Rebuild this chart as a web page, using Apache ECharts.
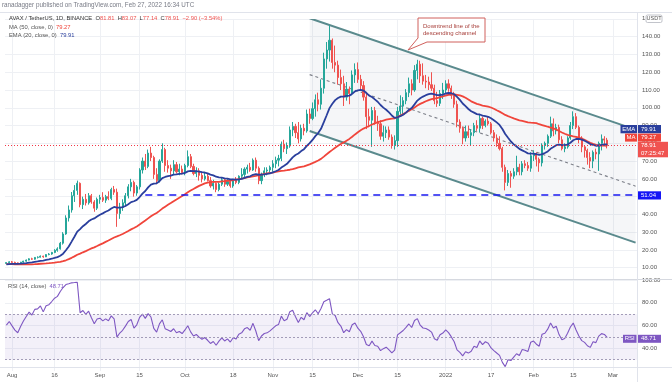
<!DOCTYPE html>
<html><head><meta charset="utf-8">
<script src="https://cdn.jsdelivr.net/npm/echarts@6/dist/echarts.min.js"></script>
<style>html,body{margin:0;padding:0;background:#fff}#c{width:672px;height:382px}</style>
</head><body><div id="c"></div>
<script>
// ---- data (AVAX / TetherUS, 1D, BINANCE) ----
const startDate = '2021-07-30';
const axisEndDate = '2022-03-09';
// closes before the first visible candle (Jun 10 - Jul 29, 2021), used to seed the indicators
const preCloses = [15.0,14.8,14.3,15.1,15.2,14.9,13.9,13.6,12.8,12.6,12.7,10.5,10.3,11.3,11.6,10.7,10.6,11.4,11.5,12.2,
12.2,11.6,11.6,12.0,12.3,12.0,12.9,12.6,11.8,12.1,11.7,11.8,11.4,11.0,11.0,10.6,10.4,10.5,10.6,10.2,
9.9,10.9,11.3,11.8,12.0,12.0,12.8,12.4,12.4,12.5];
const opens = [12.4,12.9,13.3,13.0,12.7,12.5,13.1,13.7,14.3,15.0,
14.8,15.8,15.9,16.5,16.1,17.4,17.7,18.6,19.8,20.6,
23.8,29.0,38.0,42.5,50.5,53.5,57.5,45.5,48.5,46.5,
50.5,47.0,43.5,48.5,49.5,48.0,50.0,49.0,54.0,52.5,
40.5,44.0,46.5,50.5,55.5,58.0,52.0,55.5,65.0,70.0,
67.0,74.5,72.0,62.5,59.0,70.0,76.5,67.5,66.0,64.5,
68.0,64.0,65.5,63.5,67.5,72.5,67.0,63.0,64.5,62.0,
60.0,61.5,59.0,56.0,57.5,54.0,57.0,59.5,57.0,58.5,
56.0,59.0,58.0,61.5,62.5,65.5,66.5,65.0,70.5,66.0,
59.0,62.5,64.5,65.0,66.5,68.5,70.5,71.5,79.5,77.0,
78.5,87.5,89.5,86.0,82.5,88.5,87.0,96.5,94.0,99.5,
104.5,102.0,111.0,127.5,132.5,138.0,125.5,124.0,117.0,113.5,
106.0,110.5,108.0,118.5,121.5,116.0,112.5,106.0,95.0,93.0,
98.5,92.0,91.0,84.0,86.0,87.5,83.5,79.0,81.5,98.0,
101.0,104.0,108.5,113.5,110.0,121.0,124.5,118.0,115.0,114.5,
113.0,111.0,104.0,102.5,108.0,110.0,113.5,111.0,107.0,102.0,
92.0,88.5,83.0,86.5,84.5,86.0,90.0,88.5,94.0,90.0,
92.5,91.0,86.0,83.0,80.0,77.0,66.5,58.0,63.0,61.5,
64.0,66.5,64.0,68.5,67.5,66.0,73.0,74.0,71.0,69.0,
79.0,80.0,84.0,91.0,87.0,89.0,82.0,77.0,78.0,83.0,
90.0,95.0,89.0,83.0,78.0,76.0,72.0,70.0,75.0,74.0,
80.0,82.5,81.81];
const highs = [13.0,13.6,13.8,13.4,13.0,13.3,13.9,14.6,15.3,15.6,
16.0,16.4,16.9,16.8,17.6,18.2,18.9,20.4,21.5,24.5,
30.0,39.5,45.0,52.6,56.5,59.0,58.0,50.0,51.5,52.0,
51.5,48.0,49.5,51.0,52.5,51.0,53.0,55.0,56.0,54.5,
46.5,48.5,52.0,57.0,60.0,59.0,56.5,66.0,72.0,74.0,
76.5,78.0,73.0,66.0,71.0,80.0,77.5,70.5,68.0,70.5,
69.5,68.5,67.5,68.5,76.0,74.0,68.5,66.5,66.0,63.5,
64.0,63.0,61.0,59.5,58.0,58.0,60.5,60.5,60.0,59.5,
60.0,61.0,62.0,66.0,66.5,68.0,69.0,71.5,72.0,67.0,
63.5,66.5,66.5,67.5,70.5,72.5,73.5,81.0,82.0,80.5,
89.5,92.0,91.0,92.0,90.5,91.0,99.0,99.5,103.0,107.5,
108.5,116.0,131.0,137.0,146.5,139.0,135.0,126.5,121.5,118.0,
114.5,112.0,121.0,125.0,125.5,118.5,115.0,109.0,99.5,100.5,
100.5,95.5,93.0,90.0,89.5,89.5,85.0,84.5,100.5,107.0,
106.0,110.5,117.0,116.0,124.0,127.0,126.5,125.0,118.5,117.5,
120.0,113.0,109.0,110.0,114.0,115.5,116.0,112.5,109.0,104.0,
93.5,89.5,90.0,90.0,88.0,91.5,93.0,96.5,95.0,93.5,
95.0,92.0,87.5,85.0,84.0,78.0,68.0,65.0,64.5,66.0,
73.0,68.5,70.0,70.5,69.5,75.0,76.0,75.0,72.0,80.0,
81.0,85.0,95.0,94.0,91.0,90.5,84.0,80.0,84.0,92.0,
98.0,97.0,90.0,84.0,79.0,77.0,75.0,76.0,77.0,81.0,
85.0,84.0,83.07];
const lows = [12.1,12.7,12.8,12.5,12.1,12.3,12.8,13.4,14.1,14.4,
14.5,15.2,15.7,15.6,16.0,17.0,17.3,18.2,19.0,20.2,
23.0,28.5,36.0,41.0,47.0,51.0,44.0,43.0,45.0,45.5,
46.0,41.5,42.5,46.0,47.0,46.5,48.0,48.0,51.0,33.0,
37.5,42.0,44.5,49.0,53.0,50.0,50.5,54.0,63.0,65.0,
66.0,70.0,60.0,57.0,58.0,69.0,64.0,63.5,60.0,62.5,
63.0,62.0,62.5,62.0,66.5,66.0,62.0,61.0,59.0,58.0,
59.0,58.5,55.0,54.0,52.5,53.0,56.0,55.5,56.0,55.0,
55.0,57.0,57.0,60.0,61.0,63.0,64.0,64.5,64.0,57.0,
57.0,61.0,62.0,63.0,64.0,66.0,67.0,70.0,75.0,74.0,
77.5,84.0,83.0,80.0,81.0,84.5,86.0,91.0,93.0,95.0,
98.0,99.0,108.0,122.0,126.0,122.0,120.0,113.0,110.0,101.0,
104.0,102.0,107.0,114.0,114.0,110.5,104.0,88.0,89.0,78.0,
90.5,87.0,82.0,81.0,83.0,82.0,77.0,76.5,78.0,96.0,
96.5,102.0,106.0,107.0,109.0,116.0,114.0,113.0,111.0,110.0,
109.5,102.0,100.5,101.0,105.0,108.0,109.0,105.0,100.0,89.0,
86.0,79.5,81.0,83.0,79.0,84.0,87.0,86.0,88.0,89.0,
90.0,85.0,81.0,78.0,76.0,64.0,53.5,56.0,55.0,60.0,
62.0,62.0,62.0,66.0,64.5,64.0,70.0,67.0,64.0,67.0,
76.5,78.0,83.0,84.0,85.0,80.0,76.0,75.0,77.0,82.0,
88.0,88.0,80.0,75.0,72.0,68.0,66.0,66.0,71.0,64.5,
76.0,79.0,77.14];
const closes = [12.9,13.3,13.0,12.7,12.5,13.1,13.7,14.3,15.0,14.8,
15.8,15.9,16.5,16.1,17.4,17.7,18.6,19.8,20.6,23.8,
29.0,38.0,42.5,50.5,53.5,57.5,45.5,48.5,46.5,50.5,
47.0,43.5,48.5,49.5,48.0,50.0,49.0,54.0,52.5,40.5,
44.0,46.5,50.5,55.5,58.0,52.0,55.5,65.0,70.0,67.0,
74.5,72.0,62.5,59.0,70.0,76.5,67.5,66.0,64.5,68.0,
64.0,65.5,63.5,67.5,72.5,67.0,63.0,64.5,62.0,60.0,
61.5,59.0,56.0,57.5,54.0,57.0,59.5,57.0,58.5,56.0,
59.0,58.0,61.5,62.5,65.5,66.5,65.0,70.5,66.0,59.0,
62.5,64.5,65.0,66.5,68.5,70.5,71.5,79.5,77.0,78.5,
87.5,89.5,86.0,82.5,88.5,87.0,96.5,94.0,99.5,104.5,
102.0,111.0,127.5,132.5,138.0,125.5,124.0,117.0,113.5,106.0,
110.5,108.0,118.5,121.5,116.0,112.5,106.0,95.0,93.0,98.5,
92.0,91.0,84.0,86.0,87.5,83.5,79.0,81.5,98.0,101.0,
104.0,108.5,113.5,110.0,121.0,124.5,118.0,115.0,114.5,113.0,
111.0,104.0,102.5,108.0,110.0,113.5,111.0,107.0,102.0,92.0,
88.5,83.0,86.5,84.5,86.0,90.0,88.5,94.0,90.0,92.5,
91.0,86.0,83.0,80.0,77.0,66.5,58.0,63.0,61.5,64.0,
66.5,64.0,68.5,67.5,66.0,73.0,74.0,71.0,69.0,79.0,
80.0,84.0,91.0,87.0,89.0,82.0,77.0,78.0,83.0,90.0,
95.0,89.0,83.0,78.0,76.0,72.0,70.0,75.0,74.0,80.0,
82.5,81.81,78.91];

const tickDates = ['2021-08-01','2021-08-16','2021-09-01','2021-09-15','2021-10-01','2021-10-18','2021-11-01','2021-11-15',
  '2021-12-01','2021-12-15','2022-01-01','2022-01-17','2022-02-01','2022-02-15','2022-03-01'];
const tickLabels = ['Aug','16','Sep','15','Oct','18','Nov','15','Dec','15','2022','17','Feb','15','Mar'];

const lastPrice = 78.91;
const supportLevel = 51.04;
const supportStart = '2021-09-17';
const channelDates = ['2021-11-14', '2022-03-09'];
const channelTop = [150.4, 87.7];
const channelMid = [118.65, 55.9];
const channelBottom = [86.9, 24.1];

// ---- categories ----
const categories = [];
for (let t = Date.parse(startDate + 'T00:00:00Z'); t <= Date.parse(axisEndDate + 'T00:00:00Z'); t += 86400000) {
  categories.push(new Date(t).toISOString().slice(0, 10));
}

// ---- indicators derived from the closes ----
const allC = preCloses.concat(closes);
const P = preCloses.length;
const ma50 = closes.map((_, i) => {
  const j = P + i; let s = 0;
  for (let k = j - 49; k <= j; k++) s += allC[k];
  return +(s / 50).toFixed(3);
});
const ema20 = (() => {
  const a = 2 / 21; let e = 0;
  for (let k = 0; k < 20; k++) e += allC[k];
  e /= 20; const out = [];
  for (let k = 20; k < allC.length; k++) { e = a * allC[k] + (1 - a) * e; if (k >= P) out.push(+e.toFixed(3)); }
  return out;
})();
const rsi14 = (() => {
  let g = 0, l = 0;
  for (let k = 1; k <= 14; k++) { const d = allC[k] - allC[k - 1]; if (d > 0) g += d; else l -= d; }
  g /= 14; l /= 14; const out = [];
  for (let k = 15; k < allC.length; k++) {
    const d = allC[k] - allC[k - 1];
    g = (g * 13 + Math.max(d, 0)) / 14; l = (l * 13 + Math.max(-d, 0)) / 14;
    if (k >= P) out.push(+(100 - 100 / (1 + g / (l || 1e-9))).toFixed(2));
  }
  return out;
})();

const candle = closes.map((c, i) => [opens[i], c, lows[i], highs[i]]);

const FONT = 'Liberation Sans, Arial, sans-serif';
const GRID_C = '#eef0f4';
const UP = '#26a69a', DOWN = '#ef5350';
const MA_C = '#f0453b', EMA_C = '#2a3f9d', RSI_C = '#7e57c2';

const chart = echarts.init(document.getElementById('c'), null, { renderer: 'canvas' });

const xBase = {
  type: 'category', data: categories, boundaryGap: true,
  axisLine: { show: false }, axisTick: { show: false },
  splitLine: { show: true, alignWithLabel: true, interval: (i, v) => tickDates.indexOf(v) >= 0, lineStyle: { color: GRID_C, width: 1 } }
};

function box(x, y, w, h, fill, text, opts) {
  opts = opts || {};
  return [
    { type: 'rect', z: 100, shape: { x: x, y: y, width: w, height: h, r: opts.r || 0 }, style: { fill: fill } },
    { type: 'text', z: 101, x: opts.align === 'center' ? x + w / 2 : x + 3, y: y + h / 2,
      style: { text: text, fill: '#fff', fontSize: 6, fontFamily: FONT, align: opts.align || 'left', verticalAlign: 'middle', lineHeight: 7.5 } }
  ];
}

const graphics = [].concat(
  [
    { type: 'line', z: 90, shape: { x1: 0, y1: 12.5, x2: 672, y2: 12.5 }, style: { stroke: '#e0e3eb', lineWidth: 1 } },
    { type: 'line', z: 90, shape: { x1: 0, y1: 279.5, x2: 672, y2: 279.5 }, style: { stroke: '#d6d9e0', lineWidth: 1 } },
    { type: 'line', z: 90, shape: { x1: 0, y1: 367.5, x2: 672, y2: 367.5 }, style: { stroke: '#e0e3eb', lineWidth: 1 } },
    { type: 'line', z: 90, shape: { x1: 637.5, y1: 12.5, x2: 637.5, y2: 382 }, style: { stroke: '#e0e3eb', lineWidth: 1 } },
    { type: 'text', z: 100, x: 2, y: 5.5, style: { text: 'ranadagger published on TradingView.com, Feb 27, 2022 16:34 UTC', fill: '#787b86', fontSize: 6.3, fontFamily: FONT, verticalAlign: 'middle' } },
    { type: 'text', z: 100, x: 9, y: 18.5, style: {
      text: '{a|AVAX / TetherUS, 1D, BINANCE}  {a|O}{r|81.81}  {a|H}{r|83.07}  {a|L}{r|77.14}  {a|C}{r|78.91}  {r|\u22122.90 (\u22123.54%)}',
      verticalAlign: 'middle', fontSize: 5.8, fontFamily: FONT,
      rich: { a: { fill: '#333', fontSize: 5.8, fontFamily: FONT }, r: { fill: '#ef5350', fontSize: 5.8, fontFamily: FONT } } } },
    { type: 'text', z: 100, x: 9, y: 27.5, style: {
      text: '{a|MA (50, close, 0)}  {r|79.27}', verticalAlign: 'middle', fontSize: 5.8, fontFamily: FONT,
      rich: { a: { fill: '#555', fontSize: 5.8, fontFamily: FONT }, r: { fill: MA_C, fontSize: 5.8, fontFamily: FONT } } } },
    { type: 'text', z: 100, x: 9, y: 35.5, style: {
      text: '{a|EMA (20, close, 0)}  {b|79.91}', verticalAlign: 'middle', fontSize: 5.8, fontFamily: FONT,
      rich: { a: { fill: '#555', fontSize: 5.8, fontFamily: FONT }, b: { fill: EMA_C, fontSize: 5.8, fontFamily: FONT } } } },
    { type: 'text', z: 100, x: 8, y: 286.5, style: {
      text: '{a|RSI (14, close)}  {p|48.71}', verticalAlign: 'middle', fontSize: 5.8, fontFamily: FONT,
      rich: { a: { fill: '#555', fontSize: 5.8, fontFamily: FONT }, p: { fill: RSI_C, fontSize: 5.8, fontFamily: FONT } } } },
    // annotation callout
    { type: 'polygon', z: 100, shape: { points: [[418, 18], [485, 18], [485, 42], [427, 42], [408, 50], [418, 38]] },
      style: { fill: '#ffffff', stroke: '#d0605c', lineWidth: 1 } },
    { type: 'text', z: 101, x: 423, y: 30, style: { text: 'Downtrend line of the\ndescending channel', fill: '#a8403c', fontSize: 6, lineHeight: 7.5, fontFamily: FONT, verticalAlign: 'middle' } },
    // currency label
    { type: 'text', z: 100, x: 642, y: 18.5, style: { text: '1', fill: '#555', fontSize: 6, fontFamily: FONT, verticalAlign: 'middle' } },
    { type: 'rect', z: 100, shape: { x: 646, y: 15, width: 16, height: 7.5, r: 1.5 }, style: { fill: '#fff', stroke: '#b2b5be', lineWidth: 0.8 } },
    { type: 'text', z: 101, x: 654, y: 18.8, style: { text: 'USDT', fill: '#555', fontSize: 5.5, fontFamily: FONT, align: 'center', verticalAlign: 'middle' } }
  ],
  box(620.5, 125, 16.5, 8.3, EMA_C, 'EMA', { align: 'center' }),
  box(638, 125, 23, 8.3, EMA_C, '79.91'),
  box(625, 133.6, 12, 8, MA_C, 'MA', { align: 'center' }),
  box(638, 133.6, 23, 8, MA_C, '79.27'),
  box(638, 141.8, 30, 15.5, '#f05350', '78.91\n07:25:47'),
  box(638, 191.3, 23, 8.2, '#1616f5', '51.04'),
  box(623, 334.8, 13.5, 8, RSI_C, 'RSI', { align: 'center' }),
  box(638, 334.8, 23, 8, RSI_C, '48.71')
);

const option = {
  animation: false,
  backgroundColor: '#ffffff',
  textStyle: { fontFamily: FONT },
  grid: [
    { left: 5, right: 35, top: 18.93, bottom: 96.52 },
    { left: 5, right: 35, top: 280, bottom: 10.96 }
  ],
  xAxis: [
    Object.assign({}, xBase, { gridIndex: 0, axisLabel: { show: false } }),
    Object.assign({}, xBase, { gridIndex: 1, axisLabel: {
      show: true, interval: (i, v) => tickDates.indexOf(v) >= 0,
      formatter: v => { const k = tickDates.indexOf(v); return k >= 0 ? tickLabels[k] : ''; },
      color: '#555', fontSize: 6, fontFamily: FONT, margin: 1.5 } })
  ],
  yAxis: [
    { gridIndex: 0, type: 'value', position: 'right', min: 0, max: 150, interval: 10,
      axisLine: { show: false }, axisTick: { show: false },
      axisLabel: { formatter: v => (v === 0 || v === 150) ? '' : v.toFixed(2), color: '#555', fontSize: 6, fontFamily: FONT, margin: 5 },
      splitLine: { show: true, showMinLine: false, lineStyle: { color: GRID_C, width: 1 } } },
    { gridIndex: 1, type: 'value', position: 'right', min: 20, max: 100, interval: 20,
      axisLine: { show: false }, axisTick: { show: false },
      axisLabel: { formatter: v => v === 20 ? '' : v.toFixed(2), color: '#555', fontSize: 6, fontFamily: FONT, margin: 5 },
      splitLine: { show: true, showMinLine: false, lineStyle: { color: GRID_C, width: 1 } } }
  ],
  series: [
    { type: 'custom', xAxisIndex: 0, yAxisIndex: 0, z: 1, clip: true, silent: true,
      data: [[channelDates[0], channelTop[0]]], encode: { x: 0, y: 1 },
      renderItem: (params, api) => {
        const t0 = api.coord([channelDates[0], channelTop[0]]), t1 = api.coord([channelDates[1], channelTop[1]]);
        const m0 = api.coord([channelDates[0], channelMid[0]]), m1 = api.coord([channelDates[1], channelMid[1]]);
        const b0 = api.coord([channelDates[0], channelBottom[0]]), b1 = api.coord([channelDates[1], channelBottom[1]]);
        return { type: 'group', children: [
          { type: 'polygon', shape: { points: [t0, t1, b1, b0] }, style: { fill: 'rgba(120,128,150,0.07)' } },
          { type: 'line', shape: { x1: m0[0], y1: m0[1], x2: m1[0], y2: m1[1] }, style: { stroke: '#7c7f88', lineWidth: 1.1, lineDash: [3, 3] } },
          { type: 'line', shape: { x1: t0[0], y1: t0[1], x2: t1[0], y2: t1[1] }, style: { stroke: '#5a8a8d', lineWidth: 2 } },
          { type: 'line', shape: { x1: b0[0], y1: b0[1], x2: b1[0], y2: b1[1] }, style: { stroke: '#5a8a8d', lineWidth: 2 } }
        ] };
      } },
    { type: 'candlestick', name: 'AVAX', xAxisIndex: 0, yAxisIndex: 0, z: 3, data: candle, barWidth: 1.6,
      itemStyle: { color: UP, color0: DOWN, borderColor: UP, borderColor0: DOWN, borderWidth: 1 },
      markLine: { silent: true, symbol: ['none', 'none'], label: { show: false }, animation: false, z: 5,
        data: [
          { yAxis: lastPrice, lineStyle: { color: '#f23645', type: [1, 2], width: 1 } },
          [ { coord: [supportStart, supportLevel], lineStyle: { color: '#1a1af0', type: [7, 5], width: 1.6 } },
            { coord: [axisEndDate, supportLevel] } ]
        ] } },
    { type: 'line', name: 'MA50', xAxisIndex: 0, yAxisIndex: 0, z: 4, data: ma50, showSymbol: false, symbol: 'none',
      lineStyle: { color: MA_C, width: 1.8 } },
    { type: 'line', name: 'EMA20', xAxisIndex: 0, yAxisIndex: 0, z: 4, data: ema20, showSymbol: false, symbol: 'none',
      lineStyle: { color: EMA_C, width: 1.8 } },
    { type: 'line', name: 'RSI', xAxisIndex: 1, yAxisIndex: 1, z: 4, data: rsi14, showSymbol: false, symbol: 'none',
      lineStyle: { color: RSI_C, width: 1.1 },
      markArea: { silent: true, itemStyle: { color: 'rgba(126,87,194,0.09)' }, data: [[{ yAxis: 30 }, { yAxis: 70 }]] },
      markLine: { silent: true, symbol: ['none', 'none'], label: { show: false },
        lineStyle: { color: '#a39cb8', type: [2, 2], width: 1 },
        data: [{ yAxis: 70 }, { yAxis: 50 }, { yAxis: 30 }] } }
  ],
  graphic: graphics
};
chart.setOption(option);
</script></body></html>
